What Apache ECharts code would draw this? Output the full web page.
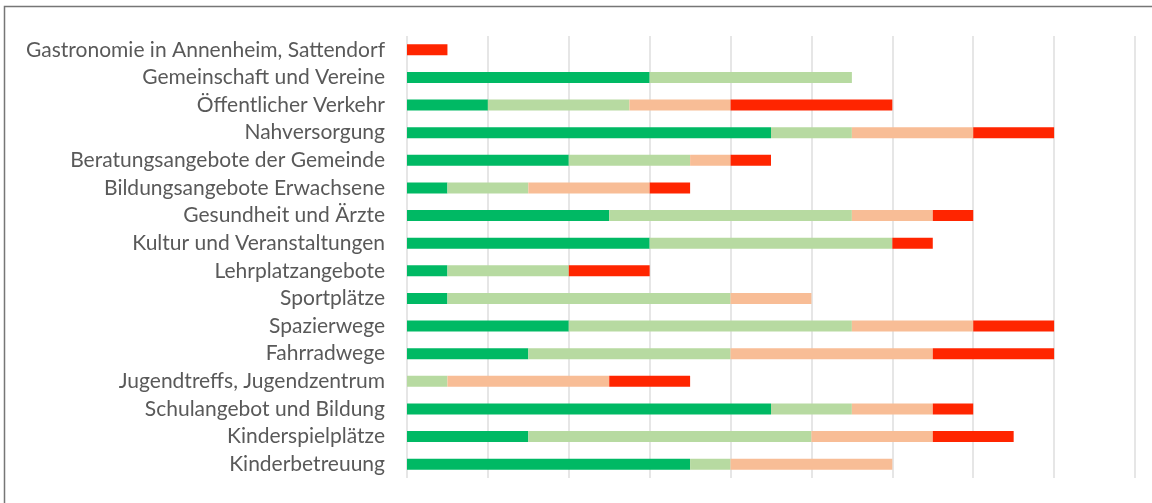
<!DOCTYPE html>
<html><head><meta charset="utf-8">
<script src="https://cdn.jsdelivr.net/npm/echarts@6/dist/echarts.min.js"></script>
<style>html,body{margin:0;padding:0;background:#fff}#c{width:1152px;height:503px}</style>
</head><body><div id="c"></div>
<script>
const categories = ["Gastronomie in Annenheim, Sattendorf","Gemeinschaft und Vereine","Öffentlicher Verkehr","Nahversorgung","Beratungsangebote der Gemeinde","Bildungsangebote Erwachsene","Gesundheit und Ärzte","Kultur und Veranstaltungen","Lehrplatzangebote","Sportplätze","Spazierwege","Fahrradwege","Jugendtreffs, Jugendzentrum","Schulangebot und Bildung","Kinderspielplätze","Kinderbetreuung"];
const darkGreen  = [0,6,2,9,4,1,5,6,1,1,4,3,0,9,3,7];
const lightGreen = [0,5,3.5,2,3,2,6,6,3,7,7,5,1,2,7,1];
const lightOrange= [0,0,2.5,3,1,3,2,0,0,2,3,5,4,2,3,4];
const red        = [1,0,4,2,1,1,1,1,2,0,2,3,2,1,2,0];
const seriesColors = ['#00B964','#B7DAA1','#F8BD96','#FF2500'];
const seriesData = [darkGreen, lightGreen, lightOrange, red];
const seriesNames = ['sehr zufrieden','zufrieden','weniger zufrieden','unzufrieden'];

const chart = echarts.init(document.getElementById('c'));
chart.setOption({
  animation:false,
  graphic:[{type:'rect',shape:{x:4.5,y:6.5,width:1160,height:510},style:{fill:'none',stroke:'#767676',lineWidth:1.5},silent:true}],
  grid:{left:407,right:17,top:36,bottom:25,containLabel:false},
  xAxis:{type:'value',min:0,max:18,interval:2,axisLabel:{show:false},axisLine:{show:false},axisTick:{show:false},
    splitLine:{show:true,lineStyle:{color:'#dedede',width:1.5}}},
  yAxis:{type:'category',data:categories,inverse:true,axisLine:{show:false},axisTick:{show:false},
    axisLabel:{color:'#595959',fontFamily:'Lato',fontSize:21,margin:22,padding:[3,0,0,0]}},
  series: seriesData.map((d,i)=>({name:seriesNames[i],type:'bar',stack:'s',data:d,barWidth:11,
    itemStyle:{color:seriesColors[i]}}))
});
</script></body></html>
